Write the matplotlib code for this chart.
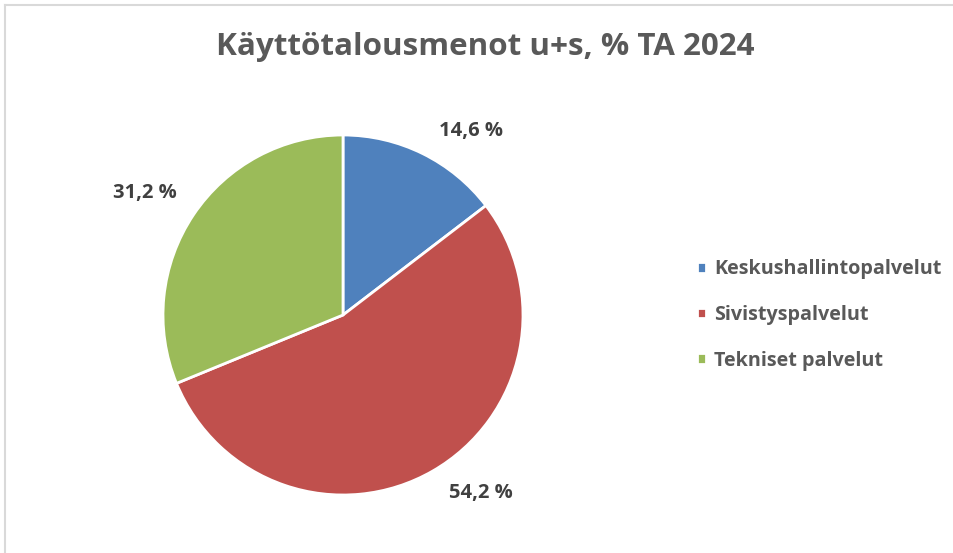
import numpy as np
import matplotlib.pyplot as plt
from matplotlib.lines import Line2D

plt.rcParams['font.family'] = ['Open Sans', 'DejaVu Sans']

categories = ['Keskushallintopalvelut', 'Sivistyspalvelut', 'Tekniset palvelut']
shares = [14.6, 54.2, 31.2]
colors = ['#4F81BD', '#C0504D', '#9BBB59']
title = 'Käyttötalousmenot u+s, % TA 2024'

fig = plt.figure(figsize=(9.54, 5.53), dpi=100)

# light frame on left and top like the exported chart area
fig.add_artist(Line2D([0.005, 0.005], [0, 0.991], transform=fig.transFigure,
                      color='#D9D9D9', lw=1.5))
fig.add_artist(Line2D([0.005, 1.0], [0.991, 0.991], transform=fig.transFigure,
                      color='#D9D9D9', lw=1.5))

# pie centered at (343, 315) px, radius 180 px
cx, cy, r = 343 / 954, 1 - 315 / 553, 180
ax = fig.add_axes([cx - r / 954, cy - r / 553, 2 * r / 954, 2 * r / 553])

def fmt(p):
    return f'{p:.1f} %'.replace('.', ',')

wedges, _ = ax.pie(
    shares, colors=colors, startangle=90, counterclock=False,
    wedgeprops=dict(edgecolor='white', linewidth=2),
)
ax.set_xlim(-1, 1)
ax.set_ylim(-1, 1)

# outside-end labels, Excel style: box sits just outside the wedge midpoint
for w, s in zip(wedges, shares):
    ang = np.deg2rad((w.theta1 + w.theta2) / 2)
    x, y = np.cos(ang), np.sin(ang)
    ax.annotate(fmt(s), xy=(x, y), xytext=(np.sign(x) * 35, np.sign(y) * 16),
                textcoords='offset points', ha='center', va='center',
                fontsize=14.5, fontweight='bold', color='#404040')

fig.text(485 / 954, 1 - 47 / 553, title, ha='center', va='center',
         fontsize=22.6, fontweight='bold', color='#595959')

fig.legend(wedges, categories, loc='center left',
           bbox_to_anchor=(697 / 954, 1 - 315 / 553), frameon=False,
           borderpad=0, borderaxespad=0,
           handlelength=0.45, handleheight=0.45, handletextpad=0.4,
           labelspacing=1.3, prop=dict(size=14.2, weight='bold'),
           labelcolor='#595959')

fig.savefig('out.png', dpi=100)
